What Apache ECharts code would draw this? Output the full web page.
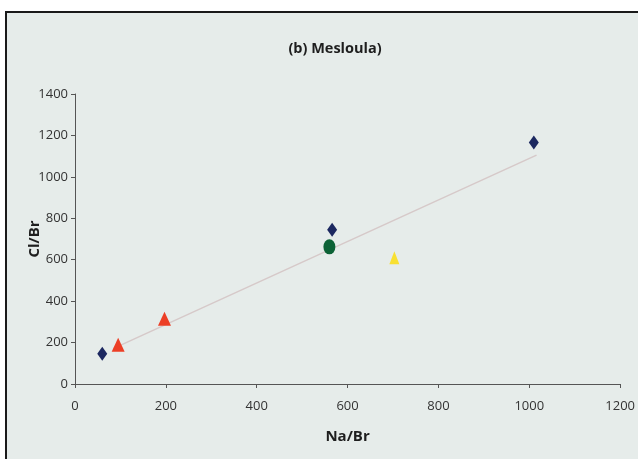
<!DOCTYPE html>
<html>
<head>
<meta charset="utf-8">
<script src="https://cdn.jsdelivr.net/npm/echarts@6/dist/echarts.min.js"></script>
<style>
html,body{margin:0;padding:0;background:#ffffff;}
#c{width:638px;height:459px;}
</style>
</head>
<body>
<div id="c"></div>
<script>
// Data
var xTicks = [0, 200, 400, 600, 800, 1000, 1200];
var yTicks = [0, 200, 400, 600, 800, 1000, 1200, 1400];
var diamondPts = [[60, 146], [566, 745], [1010, 1166]];
var redTrianglePts = [[95, 190], [197, 315]];
var greenCirclePts = [[560, 662]];
var yellowTrianglePts = [[703, 610]];
var trendX = [85, 1016];
var trendY = [172, 1105];

var trendData = trendX.map(function (x, i) { return [x, trendY[i]]; });
var FONT = 'Open Sans';
var plain = function (v) { return String(v); };

var chart = echarts.init(document.getElementById('c'), null, {renderer: 'canvas'});
chart.setOption({
  backgroundColor: '#e6ecea',
  animation: false,
  textStyle: {fontFamily: FONT},
  title: {
    text: '(b) Mesloula)',
    left: 330, top: 36, textAlign: 'center',
    textStyle: {fontFamily: FONT, fontSize: 14.5, fontWeight: 'bold', color: '#1e1e1e'}
  },
  graphic: [
    {type: 'rect', shape: {x: 0, y: 0, width: 638, height: 11}, style: {fill: '#ffffff'}, silent: true},
    {type: 'rect', shape: {x: 0, y: 0, width: 5, height: 459}, style: {fill: '#ffffff'}, silent: true},
    {type: 'line', shape: {x1: 5, y1: 12, x2: 638, y2: 12}, style: {stroke: '#1a1a1a', lineWidth: 2}, silent: true},
    {type: 'line', shape: {x1: 6, y1: 11, x2: 6, y2: 459}, style: {stroke: '#1a1a1a', lineWidth: 2}, silent: true}
  ],
  grid: {left: 75, right: 15, top: 94, bottom: 75, containLabel: false},
  xAxis: {
    type: 'value', min: xTicks[0], max: xTicks[xTicks.length - 1], interval: 200,
    name: 'Na/Br', nameLocation: 'middle', nameGap: 45, nameMoveOverlap: false,
    nameTextStyle: {fontFamily: FONT, fontSize: 15, fontWeight: 'bold', color: '#1e1e1e'},
    axisLine: {show: true, lineStyle: {color: '#555', width: 1}},
    axisTick: {show: true, length: 4, lineStyle: {color: '#555'}},
    axisLabel: {fontFamily: FONT, fontSize: 13, color: '#333', margin: 16, formatter: plain},
    splitLine: {show: false}
  },
  yAxis: {
    type: 'value', min: yTicks[0], max: yTicks[yTicks.length - 1], interval: 200,
    name: 'Cl/Br', nameLocation: 'middle', nameGap: 33, nameMoveOverlap: false,
    nameTextStyle: {fontFamily: FONT, fontSize: 15, fontWeight: 'bold', color: '#1e1e1e'},
    axisLine: {show: true, lineStyle: {color: '#555', width: 1}},
    axisTick: {show: true, length: 4, lineStyle: {color: '#555'}},
    axisLabel: {fontFamily: FONT, fontSize: 13, color: '#333', margin: 7, formatter: plain},
    splitLine: {show: false}
  },
  series: [
    {type: 'line', data: trendData, symbol: 'none', silent: true,
     lineStyle: {color: '#d6c9c9', width: 1.5}, z: 1},
    {type: 'scatter', data: diamondPts, symbol: 'diamond', symbolSize: [10, 14],
     itemStyle: {color: '#1c2860', opacity: 1}, z: 3},
    {type: 'scatter', data: redTrianglePts, symbol: 'triangle', symbolSize: [13, 14],
     itemStyle: {color: '#ec3f26', opacity: 1}, z: 3},
    {type: 'scatter', data: greenCirclePts, symbol: 'circle', symbolSize: [12, 15],
     itemStyle: {color: '#0c6236', opacity: 1}, z: 3},
    {type: 'scatter', data: yellowTrianglePts, symbol: 'triangle', symbolSize: [10, 13],
     itemStyle: {color: '#f8e032', opacity: 1}, z: 3}
  ]
});
</script>
</body>
</html>
